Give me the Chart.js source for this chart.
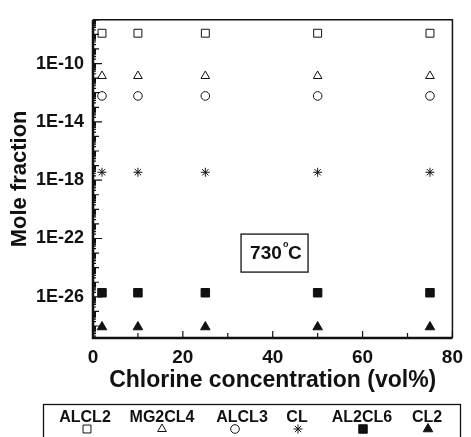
<!DOCTYPE html>
<html>
<head>
<meta charset="utf-8">
<script src="https://cdn.jsdelivr.net/npm/chart.js@4.4.1/dist/chart.umd.min.js"></script>
<style>
    html, body { margin: 0; padding: 0; background: #fff; }
    #wrap { width: 471px; height: 437px; }
</style>
</head>
<body>
<div id="wrap"><canvas id="chart" width="471" height="437"></canvas></div>
<script>
// Chlorine concentration (vol%)
const concentrations = [2, 10, 25, 50, 75];

// Mole fractions
const alcl2 = [1.2e-8, 1.2e-8, 1.2e-8, 1.2e-8, 1.2e-8];
const mg2cl4 = [1.4e-11, 1.4e-11, 1.4e-11, 1.4e-11, 1.4e-11];
const alcl3 = [6e-13, 6e-13, 6e-13, 6e-13, 6e-13];
const cl = [3.5e-18, 3.5e-18, 3.5e-18, 3.5e-18, 3.5e-18];
const al2cl6 = [1.9e-26, 1.9e-26, 1.9e-26, 1.9e-26, 1.9e-26];
const cl2 = [8.5e-29, 8.5e-29, 8.5e-29, 8.5e-29, 8.5e-29];

const seriesNames = ['ALCL2', 'MG2CL4', 'ALCL3', 'CL', 'AL2CL6', 'CL2'];

// Tick values
const xTickLabels = [0, 20, 40, 60, 80];
const xMinorTicks = [10, 30, 50, 70];
const yTickLabels = [1e-10, 1e-14, 1e-18, 1e-22, 1e-26];
const yMin = 1.5e-29;
const yMax = 1e-7;

const FONT = "'Liberation Sans', Arial, Helvetica, sans-serif";

function makeSet(label, data, style, radius, filled) {
    return {
        label: label,
        data: concentrations.map((x, i) => ({ x: x, y: data[i] })),
        pointStyle: style,
        pointRadius: radius,
        pointBorderWidth: 1,
        pointBorderColor: '#111',
        pointBackgroundColor: filled ? '#111' : 'rgba(0,0,0,0)',
        showLine: false
    };
}

// Frame with inward ticks
const framePlugin = {
    id: 'frame',
    afterDatasetsDraw(chart) {
        const { ctx, chartArea: a, scales: { x, y } } = chart;
        ctx.save();
        ctx.strokeStyle = '#111';
        // top + right
        ctx.lineWidth = 1.5;
        ctx.beginPath();
        ctx.moveTo(a.left, a.top);
        ctx.lineTo(a.right, a.top);
        ctx.lineTo(a.right, a.bottom);
        ctx.stroke();
        // left + bottom
        ctx.lineWidth = 2.5;
        ctx.beginPath();
        ctx.moveTo(a.left, a.top);
        ctx.lineTo(a.left, a.bottom);
        ctx.lineTo(a.right, a.bottom);
        ctx.stroke();

        // x ticks
        ctx.lineWidth = 1.2;
        ctx.beginPath();
        xTickLabels.concat(xMinorTicks).forEach(v => {
            const px = x.getPixelForValue(v);
            const len = xTickLabels.includes(v) ? 7 : 5;
            ctx.moveTo(px, a.bottom);
            ctx.lineTo(px, a.bottom - len);
        });
        ctx.stroke();

        // y ticks: decades and subdivisions
        ctx.beginPath();
        const e0 = Math.floor(Math.log10(yMin));
        const e1 = Math.ceil(Math.log10(yMax));
        for (let e = e0; e <= e1; e++) {
            for (let m = 1; m < 10; m++) {
                const v = m * Math.pow(10, e);
                if (v < yMin || v > yMax) continue;
                const py = y.getPixelForValue(v);
                let len = m === 1 ? 6 : 3;
                if (m === 1 && (e + 10) % 4 === 0) len = 9;
                ctx.moveTo(a.left, py);
                ctx.lineTo(a.left + len, py);
            }
        }
        ctx.stroke();
        ctx.restore();
    }
};

// Temperature label box
const tempPlugin = {
    id: 'temp',
    afterDatasetsDraw(chart) {
        const { ctx, scales: { x, y } } = chart;
        const cx = x.getPixelForValue(40.3);
        const cy = y.getPixelForValue(1e-23);
        ctx.save();
        ctx.strokeStyle = '#111';
        ctx.lineWidth = 1.3;
        ctx.strokeRect(cx - 33, cy - 19, 67, 38);
        ctx.fillStyle = '#111';
        ctx.textBaseline = 'middle';
        ctx.textAlign = 'left';
        ctx.font = 'bold 19px ' + FONT;
        ctx.fillText('730', cx - 24, cy + 1);
        ctx.font = 'bold 9px ' + FONT;
        ctx.fillText('o', cx + 9, cy - 9);
        ctx.font = 'bold 19px ' + FONT;
        ctx.fillText('C', cx + 14, cy + 1);
        ctx.restore();
    }
};

// Legend box below the chart, markers under the labels
const legendPlugin = {
    id: 'boxLegend',
    afterDraw(chart) {
        const { ctx } = chart;
        const textX = [85, 162, 242, 297, 362, 427];
        const markX = [87, 162, 235, 298, 363, 428];
        ctx.save();
        ctx.strokeStyle = '#111';
        ctx.lineWidth = 1.3;
        ctx.strokeRect(43.5, 404.5, 417, 40);
        ctx.fillStyle = '#111';
        ctx.font = 'bold 16px ' + FONT;
        ctx.textAlign = 'center';
        ctx.textBaseline = 'middle';
        chart.data.datasets.forEach((ds, i) => {
            ctx.fillStyle = '#111';
            ctx.fillText(ds.label, textX[i], 418);
            ctx.fillStyle = ds.pointBackgroundColor;
            ctx.strokeStyle = '#111';
            ctx.lineWidth = 1;
            Chart.helpers.drawPoint(ctx, {
                pointStyle: ds.pointStyle,
                radius: ds.pointRadius,
                rotation: 0,
                borderWidth: 1
            }, markX[i], 429);
        });
        ctx.restore();
    }
};

new Chart(document.getElementById('chart'), {
    type: 'scatter',
    data: {
        datasets: [
            makeSet(seriesNames[0], alcl2, 'rect', 5.6, false),
            makeSet(seriesNames[1], mg2cl4, 'triangle', 5, false),
            makeSet(seriesNames[2], alcl3, 'circle', 4.3, false),
            makeSet(seriesNames[3], cl, 'star', 4.5, false),
            makeSet(seriesNames[4], al2cl6, 'rect', 6, true),
            makeSet(seriesNames[5], cl2, 'triangle', 5.5, true)
        ]
    },
    options: {
        responsive: false,
        animation: false,
        devicePixelRatio: 1,
        layout: { padding: { left: 0, top: 12, right: 14, bottom: 37 } },
        plugins: {
            legend: { display: false },
            tooltip: { enabled: false }
        },
        scales: {
            x: {
                type: 'linear',
                min: 0,
                max: 80,
                grid: { display: false, drawTicks: false },
                border: { display: false },
                afterBuildTicks: s => { s.ticks = xTickLabels.map(v => ({ value: v })); },
                afterFit: s => { s.height = 62; },
                ticks: {
                    padding: 8,
                    color: '#111',
                    font: { family: FONT, size: 19, weight: 'bold' },
                    maxRotation: 0
                },
                title: {
                    display: true,
                    text: 'Chlorine concentration (vol%)',
                    color: '#111',
                    font: { family: FONT, size: 23, weight: 'bold' },
                    padding: { top: 0, bottom: 6 }
                }
            },
            y: {
                type: 'logarithmic',
                min: yMin,
                max: yMax,
                grid: { display: false, drawTicks: false },
                border: { display: false },
                afterBuildTicks: s => { s.ticks = yTickLabels.map(v => ({ value: v })); },
                afterFit: s => { s.width = 93; },
                ticks: {
                    padding: 9,
                    color: '#111',
                    font: { family: FONT, size: 18, weight: 'bold' },
                    callback: v => '1E' + Math.round(Math.log10(v))
                },
                title: {
                    display: true,
                    text: 'Mole fraction',
                    color: '#111',
                    font: { family: FONT, size: 22, weight: 'bold' },
                    padding: { top: 7, bottom: 0 }
                }
            }
        }
    },
    plugins: [framePlugin, tempPlugin, legendPlugin]
});
</script>
</body>
</html>
